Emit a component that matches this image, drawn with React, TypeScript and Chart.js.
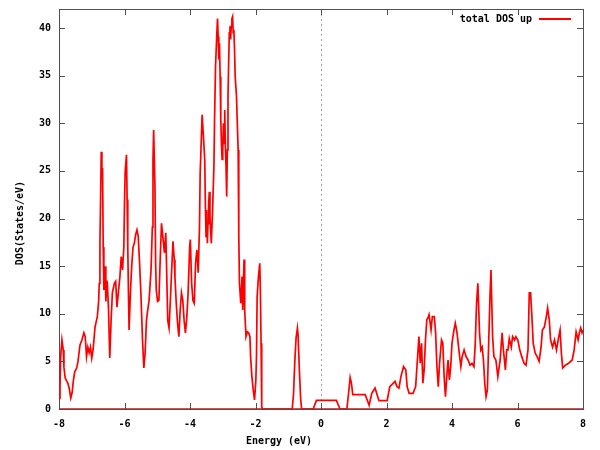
import React, { useEffect, useRef } from "react";
import { Chart, registerables } from "chart.js";

Chart.register(...registerables);

// Energy grid (eV) and total DOS (states/eV)
const energy = [
  -8.0, -7.97, -7.95, -7.91, -7.87, -7.85, -7.81, -7.73, -7.69, -7.64, -7.6, -7.56, -7.52, -7.46, -7.42,
  -7.36, -7.3, -7.24, -7.2, -7.16, -7.12, -7.08, -7.04, -7.0, -6.96, -6.9, -6.83, -6.79, -6.77, -6.75,
  -6.73, -6.71, -6.69, -6.67, -6.65, -6.63, -6.59, -6.57, -6.53, -6.49, -6.45, -6.41, -6.37, -6.31, -6.27,
  -6.23, -6.18, -6.14, -6.1, -6.06, -6.02, -6.0, -5.98, -5.94, -5.92, -5.9, -5.88, -5.86, -5.82, -5.78,
  -5.74, -5.7, -5.66, -5.62, -5.58, -5.54, -5.5, -5.45, -5.41, -5.37, -5.33, -5.29, -5.25, -5.19, -5.15,
  -5.13, -5.11, -5.07, -5.05, -5.03, -4.99, -4.95, -4.91, -4.87, -4.83, -4.78, -4.74, -4.72, -4.68, -4.64,
  -4.6, -4.56, -4.52, -4.48, -4.46, -4.42, -4.38, -4.34, -4.3, -4.26, -4.22, -4.18, -4.14, -4.1, -4.06,
  -4.01, -3.99, -3.95, -3.91, -3.87, -3.83, -3.79, -3.75, -3.71, -3.69, -3.65, -3.63, -3.59, -3.55, -3.53,
  -3.51, -3.49, -3.47, -3.45, -3.43, -3.41, -3.39, -3.35, -3.31, -3.27, -3.25, -3.22, -3.18, -3.16, -3.14,
  -3.12, -3.1, -3.08, -3.06, -3.04, -3.02, -3.0, -2.98, -2.96, -2.94, -2.92, -2.9, -2.88, -2.86, -2.84,
  -2.82, -2.8, -2.78, -2.76, -2.74, -2.72, -2.7, -2.68, -2.66, -2.64, -2.62, -2.58, -2.53, -2.51, -2.49,
  -2.45, -2.41, -2.39, -2.35, -2.33, -2.29, -2.25, -2.21, -2.17, -2.15, -2.11, -2.07, -2.03, -1.99, -1.97,
  -1.95, -1.91, -1.87, -1.85, -1.83, -1.81, -1.78, -0.88, -0.84, -0.8, -0.76, -0.72, -0.7, -0.66, -0.62,
  -0.59, -0.24, -0.14, 0.47, 0.58, 0.79, 0.84, 0.89, 0.93, 0.97, 1.35, 1.47, 1.55, 1.65, 1.73,
  1.77, 2.02, 2.1, 2.2, 2.26, 2.32, 2.38, 2.44, 2.52, 2.59, 2.63, 2.69, 2.81, 2.89, 2.95,
  2.99, 3.03, 3.07, 3.11, 3.15, 3.19, 3.23, 3.28, 3.3, 3.36, 3.4, 3.46, 3.5, 3.54, 3.58,
  3.62, 3.68, 3.72, 3.76, 3.8, 3.84, 3.88, 3.92, 3.96, 4.0, 4.06, 4.1, 4.15, 4.21, 4.27,
  4.31, 4.37, 4.43, 4.49, 4.55, 4.61, 4.67, 4.71, 4.75, 4.79, 4.84, 4.88, 4.92, 4.96, 5.0,
  5.04, 5.08, 5.12, 5.16, 5.19, 5.24, 5.28, 5.34, 5.4, 5.47, 5.53, 5.57, 5.63, 5.67, 5.71,
  5.75, 5.81, 5.85, 5.91, 5.95, 6.01, 6.07, 6.13, 6.2, 6.26, 6.32, 6.36, 6.4, 6.44, 6.48,
  6.54, 6.6, 6.66, 6.72, 6.76, 6.82, 6.88, 6.92, 6.97, 7.01, 7.07, 7.13, 7.19, 7.26, 7.3,
  7.34, 7.38, 7.46, 7.56, 7.67, 7.73, 7.79, 7.85, 7.89, 7.93, 7.97, 8.0,
];

const dosUp = [
  1.1, 2.3, 5.5, 7.25, 6.2, 4.4, 3.25, 2.7, 2.2, 1.15, 1.7, 3.0, 3.9, 4.3, 5.0,
  6.7, 7.25, 8.0, 7.6, 5.5, 6.5, 5.9, 6.5, 5.35, 6.2, 8.6, 9.7, 11.3, 13.2, 17.6,
  22.0, 27.0, 24.5, 25.3, 17.0, 12.5, 15.0, 11.3, 13.5, 10.7, 5.35, 9.3, 12.2, 13.2, 13.4,
  10.7, 12.5, 13.9, 16.0, 14.6, 17.0, 21.6, 24.9, 26.7, 22.0, 17.0, 12.2, 8.3, 12.2, 15.0,
  17.0, 17.4, 18.3, 18.8, 18.1, 15.3, 12.2, 7.25, 4.3, 5.9, 9.3, 10.4, 11.4, 14.6, 19.1,
  26.2, 29.3, 23.4, 15.3, 12.5, 11.3, 11.4, 15.7, 19.5, 18.1, 16.4, 18.5, 15.7, 9.3, 8.5,
  11.4, 14.6, 17.6, 15.7, 13.9, 11.1, 9.0, 7.6, 10.4, 12.2, 11.4, 9.3, 8.0, 9.5, 12.0,
  17.0, 17.8, 13.2, 11.4, 11.1, 15.3, 16.7, 14.3, 19.1, 24.7, 28.8, 30.9, 28.6, 26.2, 21.3,
  18.1, 20.9, 17.4, 19.5, 21.6, 22.8, 20.2, 17.4, 20.9, 25.5, 30.4, 36.0, 39.5, 41.0, 39.1,
  36.7, 38.4, 34.9, 30.4, 27.9, 26.2, 27.2, 30.0, 27.9, 31.4, 27.6, 25.5, 22.3, 27.2, 32.8,
  36.3, 39.5, 40.2, 38.8, 40.2, 41.0, 41.2, 39.5, 39.8, 37.7, 34.9, 32.8, 27.2, 18.1, 13.2,
  11.1, 13.9, 10.4, 15.7, 10.4, 7.6, 8.1, 8.0, 7.6, 5.5, 3.4, 2.0, 0.95, 3.0, 5.5,
  11.8, 13.9, 15.3, 12.2, 6.9, 0.2, 0.0, 0.0, 1.5, 5.0, 7.5, 8.5, 7.8, 4.0, 1.0,
  0.0, 0.0, 0.9, 0.9, 0.0, 0.0, 1.6, 3.3, 2.7, 1.5, 1.5, 0.4, 1.65, 2.2, 1.3,
  0.87, 0.87, 2.35, 2.7, 2.9, 2.35, 2.2, 3.4, 4.45, 4.1, 2.35, 1.65, 1.65, 2.35, 5.5,
  7.6, 4.8, 6.9, 2.7, 4.1, 7.25, 9.35, 9.7, 9.9, 8.3, 9.7, 9.7, 8.0, 4.45, 2.35,
  4.8, 7.25, 6.9, 3.4, 1.3, 3.4, 5.15, 3.05, 4.45, 6.9, 8.3, 9.0, 8.1, 6.2, 4.45,
  5.5, 6.2, 5.5, 5.15, 4.6, 4.8, 4.45, 6.9, 11.1, 13.2, 8.0, 6.2, 6.5, 5.15, 2.7,
  1.3, 2.0, 6.9, 11.8, 14.6, 7.6, 5.5, 5.15, 3.4, 5.15, 8.0, 6.2, 4.1, 6.2, 6.2,
  7.4, 6.5, 7.6, 7.25, 7.6, 7.25, 6.2, 5.5, 4.8, 4.6, 6.2, 12.2, 12.2, 9.7, 6.9,
  5.85, 5.5, 5.0, 6.5, 8.3, 8.6, 9.7, 10.6, 9.35, 7.25, 6.5, 7.25, 6.2, 7.6, 8.3,
  5.85, 4.3, 4.6, 4.8, 5.15, 6.2, 8.1, 7.25, 8.0, 8.5, 8.0, 8.3,
];

// zero reference line along the energy axis
const zeroEnergy = [-8, 8];
const zeroDos = [0, 0];

const xRange = [-8, 8];
const xStep = 2;
const yRange = [0, 42];
const yStep = 5;

const legendLabel = "total DOS up";
const xTitle = "Energy (eV)";
const yTitle = "DOS(States/eV)";

const FONT_FAMILY = '"DejaVu Sans Mono", "Liberation Mono", monospace';
const FONT = `bold 10px ${FONT_FAMILY}`;
const RED = "#ff0000";
const FRAME = "#505050";

const framePlugin = {
  id: "gnuFrame",
  beforeDatasetsDraw(chart: any) {
    const { ctx, chartArea } = chart;
    const { left, right, top, bottom } = chartArea;
    const xs = chart.scales.x;
    const ys = chart.scales.y;
    ctx.save();
    // dotted zero-energy line
    const x0 = Math.round(xs.getPixelForValue(0)) + 0.5;
    ctx.strokeStyle = "#a0a0a0";
    ctx.lineWidth = 1;
    ctx.setLineDash([2, 3]);
    ctx.beginPath();
    ctx.moveTo(x0, top);
    ctx.lineTo(x0, bottom);
    ctx.stroke();
    ctx.setLineDash([]);
    // frame
    ctx.strokeStyle = FRAME;
    ctx.lineWidth = 1;
    ctx.strokeRect(Math.round(left) + 0.5, Math.round(top) + 0.5, Math.round(right - left), Math.round(bottom - top));
    // inward ticks on all four sides
    const tl = 6;
    ctx.beginPath();
    xs.ticks.forEach((t: any) => {
      const px = Math.round(xs.getPixelForValue(t.value)) + 0.5;
      ctx.moveTo(px, bottom);
      ctx.lineTo(px, bottom - tl);
      ctx.moveTo(px, top);
      ctx.lineTo(px, top + tl);
    });
    ys.ticks.forEach((t: any) => {
      const py = Math.round(ys.getPixelForValue(t.value)) + 0.5;
      ctx.moveTo(left, py);
      ctx.lineTo(left + tl, py);
      ctx.moveTo(right, py);
      ctx.lineTo(right - tl, py);
    });
    ctx.stroke();
    ctx.restore();
  },
  afterDraw(chart: any) {
    const { ctx, chartArea } = chart;
    ctx.save();
    ctx.fillStyle = "#000";
    ctx.font = FONT;
    // legend
    const ly = chartArea.top + 10;
    const lineEnd = chartArea.right - 12;
    const lineStart = lineEnd - 32;
    ctx.textAlign = "right";
    ctx.textBaseline = "middle";
    ctx.fillText(legendLabel, lineStart - 7, ly);
    ctx.strokeStyle = RED;
    ctx.lineWidth = 2;
    ctx.beginPath();
    ctx.moveTo(lineStart, ly);
    ctx.lineTo(lineEnd, ly);
    ctx.stroke();
    // axis titles
    ctx.textAlign = "center";
    ctx.fillText(xTitle, 279, 441);
    ctx.translate(20, 223);
    ctx.rotate(-Math.PI / 2);
    ctx.fillText(yTitle, 0, 0);
    ctx.restore();
  },
};

export default function App() {
  const ref = useRef<HTMLCanvasElement | null>(null);

  useEffect(() => {
    document.body.style.margin = "0";
    const canvas = ref.current;
    if (!canvas) return;
    const tickFont = { family: FONT_FAMILY, size: 10, weight: "bold" as const };
    const chart = new Chart(canvas, {
      type: "line",
      data: {
        datasets: [
          {
            label: legendLabel,
            data: energy.map((e, i) => ({ x: e, y: dosUp[i] })),
            borderColor: RED,
            borderWidth: 1.7,
            pointRadius: 0,
            tension: 0,
            fill: false,
          },
          {
            label: "zero",
            data: zeroEnergy.map((e, i) => ({ x: e, y: zeroDos[i] })),
            borderColor: RED,
            borderWidth: 1.7,
            pointRadius: 0,
            tension: 0,
            fill: false,
          },
        ],
      },
      options: {
        responsive: false,
        maintainAspectRatio: false,
        animation: false,
        events: [],
        layout: { padding: { left: 0, right: 17, top: 9, bottom: 0 } },
        plugins: {
          legend: { display: false },
          tooltip: { enabled: false },
          title: { display: false },
        },
        scales: {
          x: {
            type: "linear",
            min: xRange[0],
            max: xRange[1],
            ticks: { stepSize: xStep, font: tickFont, color: "#000", padding: 1, includeBounds: false },
            grid: { display: false },
            border: { display: false },
            afterFit: (s: any) => {
              s.height = 41;
            },
          },
          y: {
            type: "linear",
            min: yRange[0],
            max: yRange[1],
            ticks: { stepSize: yStep, font: tickFont, color: "#000", padding: 0, includeBounds: false },
            grid: { display: false },
            border: { display: false },
            afterFit: (s: any) => {
              s.width = 59;
            },
          },
        },
      },
      plugins: [framePlugin],
    });
    return () => chart.destroy();
  }, []);

  return (
    <div style={{ width: 600, height: 450, background: "#fff" }}>
      <canvas ref={ref} width={600} height={450} style={{ display: "block" }} />
    </div>
  );
}
